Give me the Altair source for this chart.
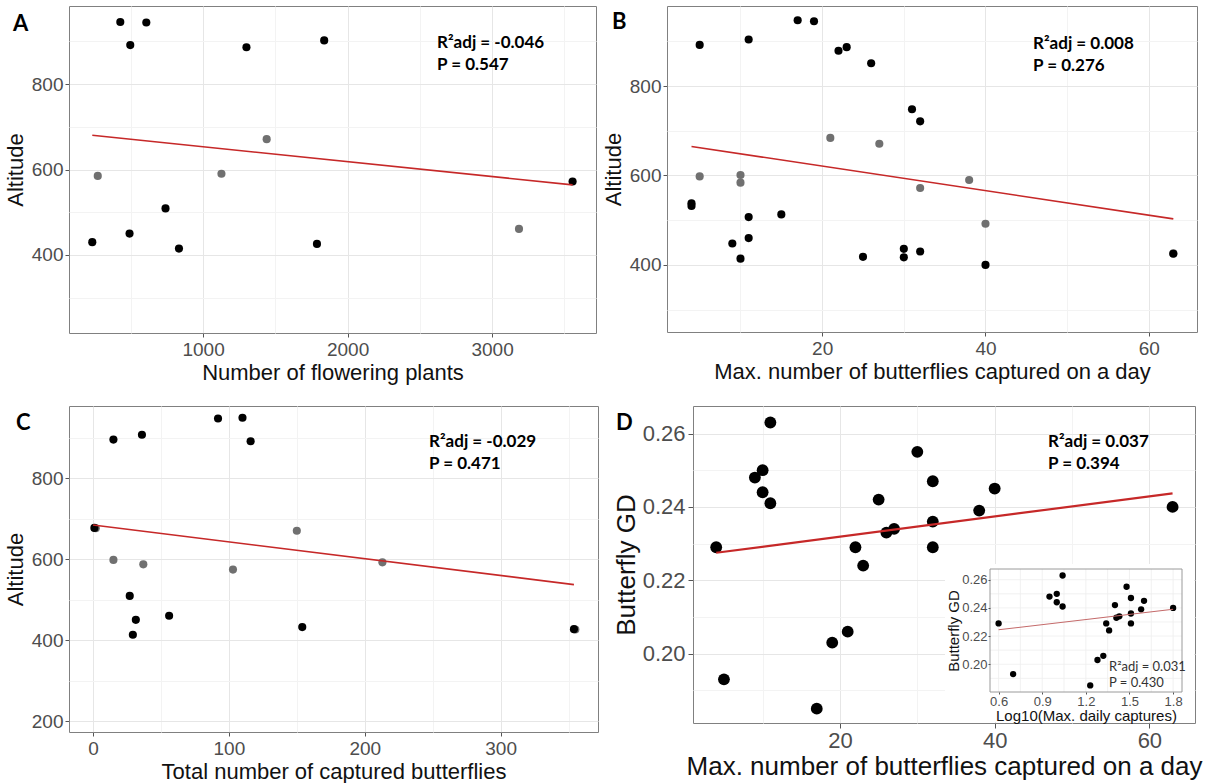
import altair as alt
import pandas as pd

# ---------------- data ----------------
# Panel A: Number of flowering plants vs Altitude
a_x = [427, 607, 496, 1300, 1838, 271, 1127, 1440, 740, 233, 491, 833, 1788, 3186, 3557]
a_y = [945, 944, 891, 886, 902, 585, 590, 671, 509, 430, 450, 415, 426, 461, 572]
a_g = ["black", "black", "black", "black", "black", "grey", "grey", "grey",
       "black", "black", "black", "black", "black", "grey", "black"]
a_line_x = [233, 3557]
a_line_y = [680, 564]
a_stats = ["R²adj = -0.046", "P = 0.547"]

# Panel B: Max. butterflies captured on a day vs Altitude
b_x = [5, 11, 17, 19, 22, 23, 26, 31, 32, 4, 4, 11, 15, 9, 11, 10, 25, 30, 30, 32, 40, 63,
       21, 27, 5, 10, 10, 38, 32, 40, 63]
b_y = [892, 904, 947, 945, 879, 887, 851, 748, 721, 538, 532, 507, 513, 448, 460, 414, 418, 436, 417, 430, 400, 425,
       684, 671, 598, 601, 584, 590, 572, 492, 426]
b_g = ["black"] * 22 + ["grey"] * 9
b_line_x = [4, 63]
b_line_y = [665, 503]
b_stats = ["R²adj = 0.008", "P = 0.276"]

# Panel C: Total captured butterflies vs Altitude
c_x = [1, 15, 36, 92, 110, 116, 27, 31.5, 29.3, 56, 154, 354,
       2, 15, 37, 103, 150, 213, 355]
c_y = [677, 895, 907, 947, 949, 891, 509, 450, 413, 460, 432, 427,
       676, 598, 587, 574, 670, 592, 426]
c_g = ["black"] * 12 + ["grey"] * 7
c_line_x = [0, 354]
c_line_y = [684, 537]
c_stats = ["R²adj = -0.029", "P = 0.471"]

# Panel D: Max. butterflies captured on a day vs Butterfly GD
d_x = [4, 5, 9, 10, 10, 11, 11, 17, 19, 21, 22, 23, 25, 26, 27, 30, 32, 32, 32, 38, 40, 63]
d_y = [0.229, 0.193, 0.248, 0.250, 0.244, 0.263, 0.241, 0.185, 0.203, 0.206, 0.229,
       0.224, 0.242, 0.233, 0.234, 0.255, 0.247, 0.236, 0.229, 0.239, 0.245, 0.240]
d_line_x = [4, 63]
d_line_y = [0.2275, 0.2437]
d_stats = ["R²adj = 0.037", "P = 0.394"]

# Inset of D: Log10(Max. daily captures) vs Butterfly GD
in_x = [0.60, 0.70, 0.95, 1.00, 1.00, 1.04, 1.04, 1.23, 1.28, 1.32, 1.34,
        1.36, 1.40, 1.41, 1.43, 1.48, 1.51, 1.51, 1.51, 1.58, 1.60, 1.80]
in_y = d_y
in_line_x = [0.60, 1.80]
in_line_y = [0.2245, 0.2390]
in_stats = ["R²adj = 0.031", "P = 0.430"]

# ---------------- styling ----------------
FONT = "Liberation Sans"
ANNOT = "Lato"
LABEL_COLOR = "#4d4d4d"
GRID_MAJOR = "#e6e6e6"
GRID_MINOR = "#f3f3f3"
RED = "#c62828"
COLORS = alt.Scale(domain=["grey", "black"], range=["#707070", "#000000"])


def make_axis(values, test, title, fmt, label_size, title_size, title_pad,
              label_pad=3, tick=4, grid=True, **kw):
    return alt.Axis(
        values=values, format=fmt, title=title,
        labelExpr=f"({test}) ? datum.label : ''",
        labelOverlap=False, labelFlush=False,
        labelFont=FONT, labelFontSize=label_size, labelColor=LABEL_COLOR,
        titleFont=FONT, titleFontSize=title_size, titleFontWeight="normal",
        titleColor="#111111", titlePadding=title_pad, labelPadding=label_pad,
        tickSize=tick, tickColor="#555555",
        tickOpacity={"condition": {"test": test, "value": 1}, "value": 0},
        grid=grid,
        gridColor={"condition": {"test": test, "value": GRID_MAJOR}, "value": GRID_MINOR},
        gridWidth=1, domain=False, **kw)


def text_at(t, x, y, size, weight="bold", font=ANNOT, color="#000000"):
    return alt.Chart(pd.DataFrame({"t": [t]})).mark_text(
        align="left", baseline="middle", font=font, fontSize=size,
        fontWeight=weight, color=color
    ).encode(x=alt.value(x), y=alt.value(y), text="t:N")


def scatter_layers(x, y, g, lx, ly, xdom, ydom, xax, yax, size, line_w):
    df = pd.DataFrame({"x": x, "y": y, "g": g})
    df["o"] = (df["g"] == "black").astype(int)
    df = df.sort_values("o", kind="stable")
    xs = alt.Scale(domain=xdom, nice=False, zero=False)
    ys = alt.Scale(domain=ydom, nice=False, zero=False)
    pts = alt.Chart(df).mark_circle(size=size, opacity=1).encode(
        x=alt.X("x:Q", scale=xs, axis=xax),
        y=alt.Y("y:Q", scale=ys, axis=yax),
        color=alt.Color("g:N", scale=COLORS, legend=None),
    )
    line = alt.Chart(pd.DataFrame({"x": lx, "y": ly})).mark_line(
        color=RED, strokeWidth=line_w
    ).encode(
        x=alt.X("x:Q", scale=xs, axis=xax),
        y=alt.Y("y:Q", scale=ys, axis=yax),
    )
    return pts, line


def altitude_panel(x, y, g, lx, ly, xdom, ydom, xvals, xtest, yvals, xtitle,
                   w, h, letter, lpos, stats, spos):
    xax = make_axis(xvals, xtest, xtitle, "d", 19, 22, 3, label_pad=3, tick=4)
    yax = make_axis(yvals, "datum.value % 200 === 0", "Altitude", "d", 19, 22, 4,
                    label_pad=2, tick=4)
    pts, line = scatter_layers(x, y, g, lx, ly, xdom, ydom, xax, yax, 66, 1.6)
    return alt.layer(
        pts, line,
        text_at(letter, lpos[0], lpos[1], 22),
        text_at(stats[0], spos[0], spos[1], 17),
        text_at(stats[1], spos[0], spos[1] + 22, 17),
    ).properties(width=w, height=h)


panel_a = altitude_panel(
    a_x, a_y, a_g, a_line_x, a_line_y, [72, 3719], [217.5, 982.5],
    [500, 1000, 1500, 2000, 2500, 3000, 3500], "datum.value % 1000 === 0",
    [300, 400, 500, 600, 700, 800, 900], "Number of flowering plants",
    527, 327, "A", (-56, 18), a_stats, (368, 37))

panel_b = altitude_panel(
    b_x, b_y, b_g, b_line_x, b_line_y, [1.0, 65.9], [250, 979],
    [10, 20, 30, 40, 50, 60], "datum.value % 20 === 0",
    [300, 400, 500, 600, 700, 800, 900], "Max. number of butterflies captured on a day",
    530, 326, "B", (-55, 16), b_stats, (366, 38))

panel_c = altitude_panel(
    c_x, c_y, c_g, c_line_x, c_line_y, [-17.7, 371.7], [173, 978],
    [0, 50, 100, 150, 200, 250, 300, 350], "datum.value % 100 === 0",
    [200, 300, 400, 500, 600, 700, 800, 900], "Total number of captured butterflies",
    529, 326, "C", (-53, 17), c_stats, (360, 36))

# ---------------- panel D with inset ----------------
D_W, D_H = 502, 317
d_test_y = "round(datum.value * 100) % 2 === 0"
d_xax = make_axis([10, 20, 30, 40, 50, 60], "datum.value % 20 === 0",
                  "Max. number of butterflies captured on a day", "d", 22, 26, 2,
                  label_pad=2, tick=5)
d_yax = make_axis([0.19, 0.20, 0.21, 0.22, 0.23, 0.24, 0.25, 0.26], d_test_y,
                  "Butterfly GD", ".2f", 22, 26, 3, label_pad=3, tick=5)
d_pts, d_line = scatter_layers(d_x, d_y, ["black"] * len(d_x), d_line_x, d_line_y,
                               [1.0, 65.9], [0.1811, 0.2675], d_xax, d_yax, 140, 2.2)
d_main = alt.layer(
    d_pts, d_line,
    text_at("D", -77, 17, 22),
    text_at(d_stats[0], 355, 36, 17),
    text_at(d_stats[1], 355, 58, 17),
)

IN_L, IN_R, IN_T, IN_B = 297, 489, 163, 286
in_xdom = [0.541, 1.861]
in_ydom = [0.1803, 0.2676]
in_xs = alt.Scale(domain=in_xdom, range=[IN_L, IN_R], nice=False, zero=False)
in_ys = alt.Scale(domain=in_ydom, range=[IN_B, IN_T], nice=False, zero=False)
in_xtest = "round(datum.value * 10) % 3 === 0"
in_xax = make_axis([0.6, 0.75, 0.9, 1.05, 1.2, 1.35, 1.5, 1.65, 1.8], in_xtest,
                   "Log10(Max. daily captures)", ".1f", 13, 15, 0, label_pad=1, tick=2,
                   grid=False, orient="bottom", offset=-(D_H - IN_B), zindex=1)
in_yax = make_axis([0.19, 0.20, 0.21, 0.22, 0.23, 0.24, 0.25, 0.26], d_test_y,
                   "Butterfly GD", ".2f", 13, 15, 0, label_pad=1, tick=2,
                   grid=False, orient="left", offset=-IN_L, zindex=1)

in_bg = alt.Chart(pd.DataFrame({"k": [0]})).mark_rect(fill="white", stroke=None).encode(
    x=alt.value(252), x2=alt.value(501), y=alt.value(158), y2=alt.value(316))
in_df = pd.DataFrame({"x": in_x, "y": in_y})
in_gx = pd.DataFrame({"v": [0.6, 0.75, 0.9, 1.05, 1.2, 1.35, 1.5, 1.65, 1.8]})
in_gy = pd.DataFrame({"v": [0.19, 0.20, 0.21, 0.22, 0.23, 0.24, 0.25, 0.26]})
in_grid_x = alt.Chart(in_gx).mark_rule(color="#eeeeee", strokeWidth=0.8).encode(
    x=alt.X("v:Q", scale=in_xs, axis=in_xax),
    y=alt.datum(in_ydom[0], scale=in_ys), y2=alt.datum(in_ydom[1]))
in_grid_y = alt.Chart(in_gy).mark_rule(color="#eeeeee", strokeWidth=0.8).encode(
    y=alt.Y("v:Q", scale=in_ys, axis=in_yax),
    x=alt.datum(in_xdom[0], scale=in_xs), x2=alt.datum(in_xdom[1]))
in_pts = alt.Chart(in_df).mark_circle(size=40, color="black", opacity=1).encode(
    x=alt.X("x:Q", scale=in_xs, axis=in_xax),
    y=alt.Y("y:Q", scale=in_ys, axis=in_yax))
in_line = alt.Chart(pd.DataFrame({"x": in_line_x, "y": in_line_y})).mark_line(
    color="#c46a6a", strokeWidth=1.1).encode(
    x=alt.X("x:Q", scale=in_xs, axis=in_xax),
    y=alt.Y("y:Q", scale=in_ys, axis=in_yax))
in_border = alt.Chart(pd.DataFrame({"k": [0]})).mark_rect(
    fill=None, stroke="#9a9a9a", strokeWidth=1).encode(
    x=alt.value(IN_L), x2=alt.value(IN_R), y=alt.value(IN_T), y2=alt.value(IN_B))
inset = alt.layer(
    in_bg, in_grid_x, in_grid_y, in_pts, in_line, in_border,
    text_at(in_stats[0], 416, 261, 13, weight="normal", color="#333333"),
    text_at(in_stats[1], 416, 277, 13, weight="normal", color="#333333"),
)

panel_d = alt.layer(d_main, inset).resolve_scale(
    x="independent", y="independent").properties(width=D_W, height=D_H)

row1 = alt.hconcat(panel_a, panel_b, spacing=4)
row2 = alt.hconcat(panel_c, panel_d, spacing=13)

chart = alt.vconcat(row1, row2, spacing=21).properties(
    padding={"left": 3, "top": 5, "right": 0, "bottom": 0},
    background="white",
).configure_view(stroke="#808080", strokeWidth=1)

chart.save("out.html", embed_options={"renderer": "svg", "actions": False})
